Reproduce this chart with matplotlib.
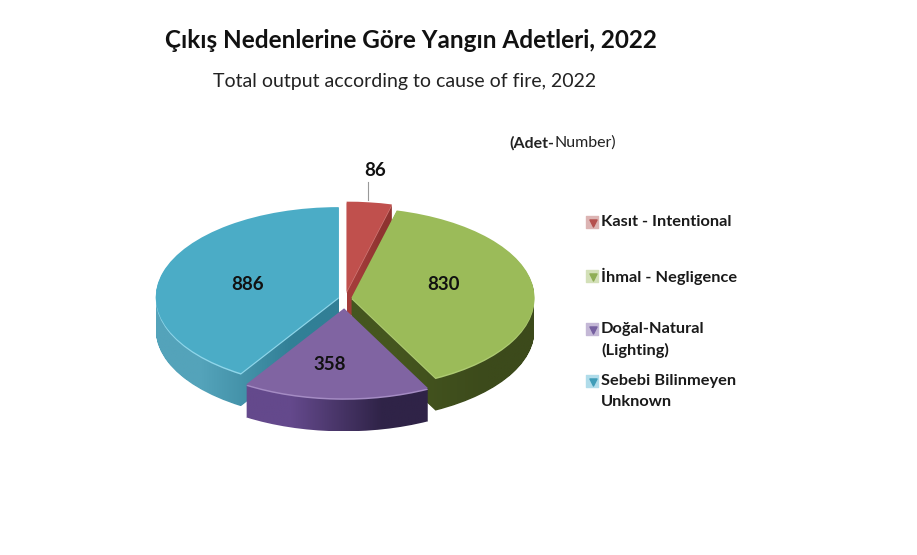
import numpy as np
import matplotlib
matplotlib.use("Agg")
import matplotlib.pyplot as plt
from matplotlib.colors import to_rgb
from matplotlib.path import Path

plt.rcParams['font.family'] = ['Lato', 'DejaVu Sans']

# data
causes = ["Kasıt - Intentional", "İhmal - Negligence", "Doğal-Natural\n(Lighting)", "Sebebi Bilinmeyen\nUnknown"]
counts = [86, 830, 358, 886]

# styles
top_colors = ["#c0504d", "#9bbb59", "#8064a2", "#4bacc6"]
rim_colors = ["#d07a78", "#aecb72", "#a58cc4", "#8fd6ea"]
side_left = ["#a33c3a", "#45561f", "#64498c", "#54a3ba"]
side_right = ["#8f3330", "#3c4a1b", "#2f2347", "#317f96"]
marker_colors = ["#b5504e", "#8fae55", "#7660a0", "#3f9db8"]
marker_backs = ["#dcb4b3", "#d3e0b8", "#c4b8d6", "#b0dcea"]
explode = [13, 6.5, 21, 6.5]
draw_order = [0, 3, 1, 2]

W, H = 917, 555
squash = 90 / 183  # how much the pie is flattened
radius = 183
cx, cy = 345, (H - 298) / squash
depth = 33

fig = plt.figure(figsize=(W / 100, H / 100), dpi=100)
ax = fig.add_axes([0, 0, 1, 1])


def one_wedge(i, drop, color, z):
    # pie draws all the slices, only slice i is kept
    wedges, _ = ax.pie(counts, explode=explode, center=(cx, cy - drop / squash), radius=radius,
                       startangle=90, counterclock=False)
    for k, w in enumerate(wedges):
        if k != i:
            w.remove()
    wedges[i].set(facecolor=color, edgecolor="none", zorder=z)
    return wedges[i]


z = 1
for i in draw_order:
    # side of the slice, a gradient clipped to the stacked slice
    parts = []
    for d in range(1, depth + 1):
        w = one_wedge(i, d, "none", z)
        parts.append(w.get_path().transformed(w.get_patch_transform()))
        w.remove()
    side = Path.make_compound_path(*parts)
    box = side.get_extents()
    grad = np.array([[to_rgb(side_left[i]), to_rgb(side_right[i])]])
    img = ax.imshow(grad, extent=(box.x0, box.x1, box.y0, box.y1), aspect="auto",
                    interpolation="bilinear", zorder=z)
    img.set_clip_path(side, ax.transData)
    one_wedge(i, 1.5, rim_colors[i], z + 0.1)
    one_wedge(i, 0, top_colors[i], z + 0.2)
    z += 1

ax.set_xlim(0, W)
ax.set_ylim(0, H / squash)
ax.set_aspect("auto")
ax.axis("off")

# second axes in pixel coordinates for the texts
tx = fig.add_axes([0, 0, 1, 1])
tx.set_xlim(0, W)
tx.set_ylim(H, 0)
tx.axis("off")
tx.patch.set_alpha(0)

tx.text(411, 41, "Çıkış Nedenlerine Göre Yangın Adetleri, 2022", fontsize=17.5, fontweight="bold",
        color="#111111", ha="center", va="center")
tx.text(405, 81, "Total output according to cause of fire, 2022", fontsize=14,
        color="#222222", ha="center", va="center")
tx.text(509, 143, "(Adet-", fontsize=11.5, fontweight="bold", color="#222222", va="center")
tx.text(554, 143, "Number)", fontsize=11.5, color="#222222", va="center")

# value labels
label_pos = [(375, 171), (444, 285), (330, 364), (248, 284)]
for v, (x, y) in zip(counts, label_pos):
    tx.text(x, y, str(v), fontsize=13.5, fontweight="bold", color="#111111", ha="center", va="center")
tx.plot([368, 368], [182, 200], color="#999999", lw=0.8)

# legend
legend_y = [222, 276, 329, 381]
for name, y, c, b in zip(causes, legend_y, marker_colors, marker_backs):
    tx.scatter([592], [y], marker="s", s=70, color=b, zorder=3)
    tx.scatter([593], [y + 1], marker="v", s=26, color=c, zorder=4)
    first = name.split("\n")
    tx.text(601, y, first[0], fontsize=11.8, fontweight="bold", color="#1a1a1a", va="center")
    if len(first) > 1:
        tx.text(601, y + 21, first[1], fontsize=11.8, fontweight="bold", color="#1a1a1a", va="center")

fig.savefig("out.png", dpi=100, facecolor="white")
